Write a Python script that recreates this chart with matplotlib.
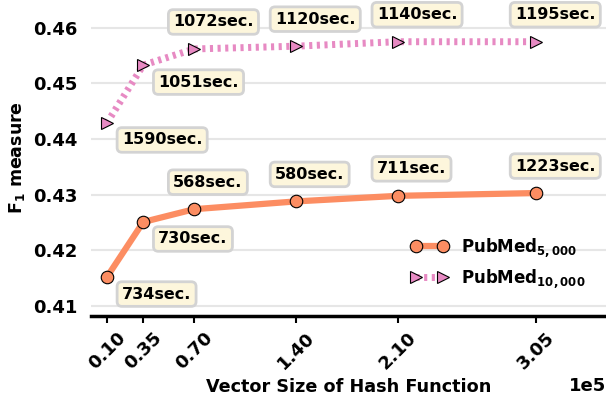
import matplotlib
matplotlib.use("Agg")
import matplotlib.pyplot as plt
import numpy as np

# vector size of the hash function (x1e5 on the axis)
sizes = [10000, 35000, 70000, 140000, 210000, 305000]

# F1 measure
f1_5000 = [0.4152, 0.4251, 0.4274, 0.4288, 0.4298, 0.4303]
f1_10000 = [0.4429, 0.4533, 0.4562, 0.4567, 0.4575, 0.4575]

# run time labels
sec_5000 = ["734sec.", "730sec.", "568sec.", "580sec.", "711sec.", "1223sec."]
sec_10000 = ["1590sec.", "1051sec.", "1072sec.", "1120sec.", "1140sec.", "1195sec."]

plt.rcParams['font.family'] = 'DejaVu Sans'
plt.rcParams['font.weight'] = 'bold'
plt.rcParams['axes.labelweight'] = 'bold'

orange = '#fc8d62'
pink = '#e78ac3'

fig = plt.figure(figsize=(6.06, 3.98), dpi=100)
ax = fig.add_axes([0.150, 0.206, 0.850, 0.794])

ax.plot(sizes, f1_5000, color=orange, lw=4.5, marker='o', ms=9,
        mec='black', mew=0.8, label='PubMed$_{5,000}$', zorder=3)
l2, = ax.plot(sizes, f1_10000, color=pink, lw=5, marker='>', ms=9,
              mec='black', mew=0.8, label='PubMed$_{10,000}$', zorder=3)
l2.set_dashes((0.45, 0.65))

box = dict(boxstyle='round,pad=0.3', fc='#fdf6dc', ec='#d3d3d3', lw=2)

def put_labels(ys, texts):
    for i, (x, y, t) in enumerate(zip(sizes, ys, texts)):
        if i < 2:
            off = (15, -17)
        else:
            off = (-21, 27)
        ax.annotate(t, (x, y), xytext=off, textcoords='offset pixels',
                    ha='left', va='center', fontsize=11.5, fontweight='bold',
                    bbox=box, zorder=4)

put_labels(f1_5000, sec_5000)
put_labels(f1_10000, sec_10000)

ax.set_xlim(-1000, 353100)
ax.set_ylim(0.4082, 0.465)
ax.set_xticks(sizes)
ax.set_yticks([0.41, 0.42, 0.43, 0.44, 0.45, 0.46])
ax.ticklabel_format(axis='x', style='sci', scilimits=(5, 5))
ax.xaxis.get_offset_text().set_fontsize(13)
ax.xaxis.get_offset_text().set_fontweight('bold')

ax.tick_params(axis='x', labelsize=13, length=5, width=1.5, pad=4)
plt.setp(ax.get_xticklabels(), rotation=45, ha='center')
ax.tick_params(axis='y', labelsize=13, length=0, pad=10)
ax.yaxis.grid(True, color='#e6e6e6', lw=1.5)
ax.set_axisbelow(True)

for s in ['left', 'top', 'right']:
    ax.spines[s].set_visible(False)
ax.spines['bottom'].set_linewidth(2.5)

ax.set_xlabel('Vector Size of Hash Function', fontsize=12.7, labelpad=4)
ax.set_ylabel('F$_1$ measure', fontsize=12.5)

ax.legend(loc='lower right', bbox_to_anchor=(0.99, 0.035), frameon=False,
          numpoints=2, handlelength=2.2, fontsize=12)

fig.savefig('out.png', dpi=100)
